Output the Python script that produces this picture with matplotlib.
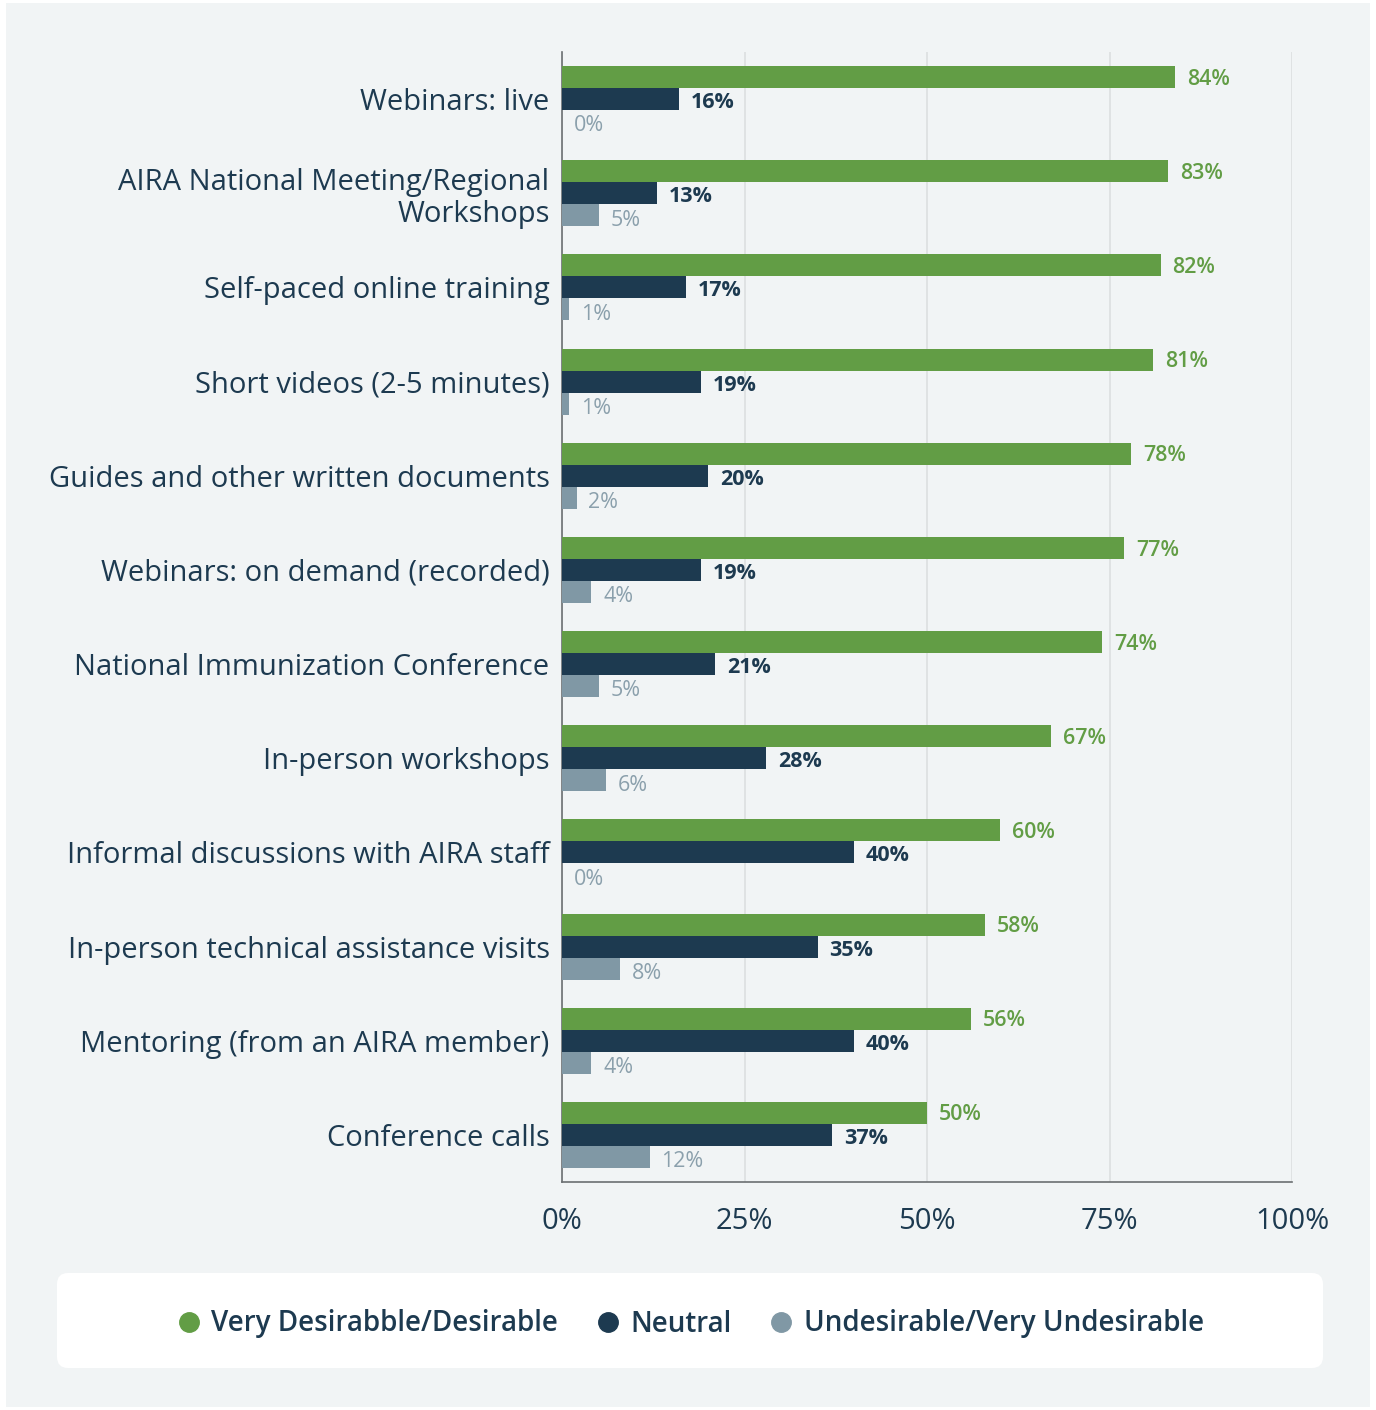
import numpy as np
import matplotlib
matplotlib.use("Agg")
import matplotlib.pyplot as plt
from matplotlib.patches import FancyBboxPatch, Rectangle
from matplotlib.lines import Line2D

plt.rcParams["font.family"] = ["Open Sans", "DejaVu Sans"]

categories = [
    "Webinars: live",
    "AIRA National Meeting/Regional\nWorkshops",
    "Self-paced online training",
    "Short videos (2-5 minutes)",
    "Guides and other written documents",
    "Webinars: on demand (recorded)",
    "National Immunization Conference",
    "In-person workshops",
    "Informal discussions with AIRA staff",
    "In-person technical assistance visits",
    "Mentoring (from an AIRA member)",
    "Conference calls",
]
desirable = [84, 83, 82, 81, 78, 77, 74, 67, 60, 58, 56, 50]
neutral = [16, 13, 17, 19, 20, 19, 21, 28, 40, 35, 40, 37]
undesirable = [0, 5, 1, 1, 2, 4, 5, 6, 0, 8, 4, 12]
series_names = ["Very Desirabble/Desirable", "Neutral", "Undesirable/Very Undesirable"]
xticks = [0, 25, 50, 75, 100]

GREEN, NAVY, GREY = "#629d45", "#1d3a50", "#8098a5"
GREY_TXT = "#8ba0ac"
BG = "#f1f4f5"

W, H = 1376, 1410
fig = plt.figure(figsize=(W / 100, H / 100), dpi=100, facecolor="white")
fig.patches.append(Rectangle((6 / W, 3 / H), 1 - 12 / W, 1 - 6 / H, transform=fig.transFigure,
                             facecolor=BG, edgecolor="none", zorder=-10))

ax = fig.add_axes([562 / W, 1 - 1182 / H, 730 / W, 1130 / H])
ax.set_facecolor(BG)

y = np.arange(len(categories))
bh = 22 / (1130 / 12)
specs = [(desirable, -bh, GREEN, GREEN, "semibold", -1.5),
         (neutral, 0, NAVY, NAVY, "bold", -2.5),
         (undesirable, bh, GREY, GREY_TXT, "normal", -3.5)]
for vals, off, col, tcol, wt, dy in specs:
    bars = ax.barh(y + off, vals, height=bh, color=col, zorder=3)
    for b, v in zip(bars, vals):
        ax.annotate(f"{v}%", (b.get_width(), b.get_y() + b.get_height() / 2),
                    xytext=(8.5, dy), textcoords="offset points", va="center", ha="left",
                    fontsize=15.5, color=tcol, fontweight=wt)

ax.set_xlim(0, 100)
ax.set_ylim(len(categories) - 0.5, -0.5)
ax.set_xticks(xticks)
ax.set_xticklabels([f"{t}%" for t in xticks])
ax.set_yticks(y)
ax.set_yticklabels(categories, linespacing=1.15)
ax.tick_params(axis="y", length=0, pad=9, labelsize=21, labelcolor=NAVY)
ax.tick_params(axis="x", length=0, pad=18, labelsize=21, labelcolor=NAVY)
ax.grid(axis="x", color="#dcdfe0", lw=1.2, zorder=0)
for s in ("top", "right"):
    ax.spines[s].set_visible(False)
for s in ("left", "bottom"):
    ax.spines[s].set_color("#6b6f72")
    ax.spines[s].set_linewidth(1.2)

# legend panel
fig.patches.append(FancyBboxPatch((57 / W, 1 - 1368 / H), 1266 / W, 95 / H,
                                  boxstyle="round,pad=0,rounding_size=0.008",
                                  transform=fig.transFigure, facecolor="white",
                                  edgecolor="none", zorder=-5))
handles = [Line2D([], [], ls="none", marker="o", markersize=14, color=c)
           for c in (GREEN, NAVY, GREY)]
leg = fig.legend(handles, series_names, loc="center", bbox_to_anchor=(0.501, 1 - 1324 / H),
                 ncol=3, frameon=False, handletextpad=0.3, columnspacing=1.3,
                 handlelength=1.0, prop={"size": 20, "weight": "semibold"})
for t in leg.get_texts():
    t.set_color(NAVY)

fig.savefig("out.png", dpi=100, facecolor="white")
